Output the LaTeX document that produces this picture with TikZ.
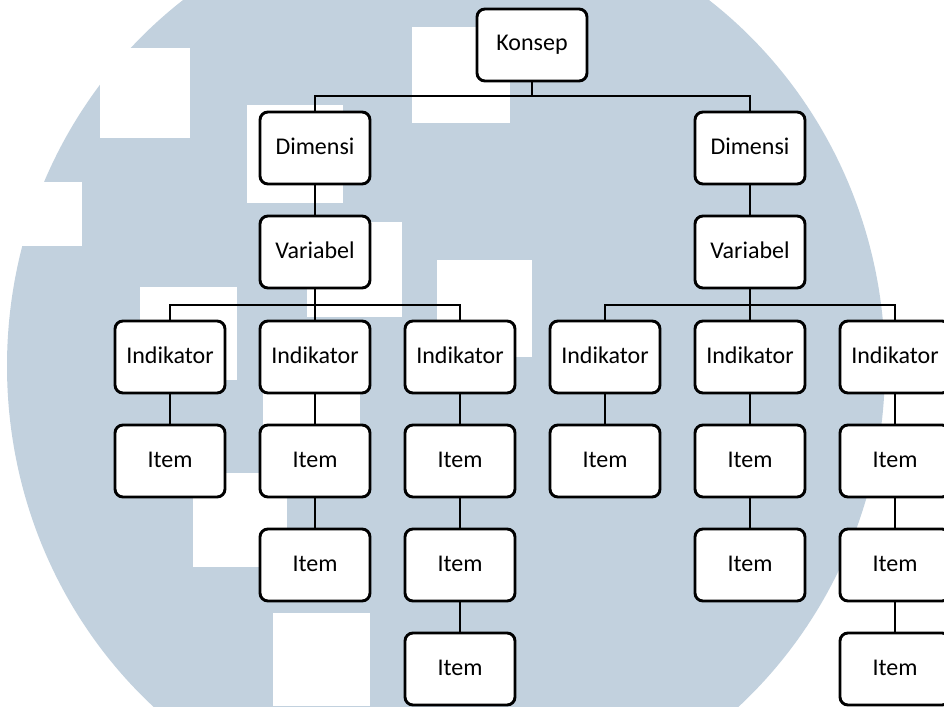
\documentclass[tikz,border=0pt]{standalone}
\usepackage{fontspec}
\setmainfont{Carlito}
\definecolor{wm}{RGB}{194,209,222}
\begin{document}
\begin{tikzpicture}[x=1pt,y=-1pt,
  box/.style={draw=black, line width=2.9pt, fill=white, rounded corners=8pt,
    minimum width=110pt, minimum height=72pt, inner sep=0pt,
    text height=1.2em, text depth=0pt,
    font=\fontsize{24}{29}\selectfont, text=black},
  conn/.style={draw=black, line width=2.6pt},
  hole/.style={fill=white}]
\clip (0,0) rectangle (944,706);
\fill[white] (0,0) rectangle (944,706);
% watermark
\fill[wm] (446,366) ellipse [x radius=439pt, y radius=457pt];
\fill[hole] (100,48) rectangle (190,138);
\fill[hole] (0,182) rectangle (82,246);
\fill[hole] (412,27) rectangle (510,123);
\fill[hole] (247,105) rectangle (343,203);
\fill[hole] (307,222) rectangle (402,317);
\fill[hole] (437,260) rectangle (532,357);
\fill[hole] (140,287) rectangle (237,380);
\fill[hole] (263,380) rectangle (360,470);
\fill[hole] (193,473) rectangle (287,567);
\fill[hole] (273,613) rectangle (370,706);
% nodes
\node[box] (konsep) at (532,45) {Konsep};
\node[box] (dim1) at (315,148) {Dimensi};
\node[box] (dim2) at (750,148) {Dimensi};
\node[box] (var1) at (315,252) {Variabel};
\node[box] (var2) at (750,252) {Variabel};
\node[box] (ind1) at (170,357) {Indikator};
\node[box] (ind2) at (315,357) {Indikator};
\node[box] (ind3) at (460,357) {Indikator};
\node[box] (ind4) at (605,357) {Indikator};
\node[box] (ind5) at (750,357) {Indikator};
\node[box] (ind6) at (895,357) {Indikator};
\node[box] (it1a) at (170,461) {Item};
\node[box] (it2a) at (315,461) {Item};
\node[box] (it2b) at (315,565) {Item};
\node[box] (it3a) at (460,461) {Item};
\node[box] (it3b) at (460,565) {Item};
\node[box] (it3c) at (460,669) {Item};
\node[box] (it4a) at (605,461) {Item};
\node[box] (it5a) at (750,461) {Item};
\node[box] (it5b) at (750,565) {Item};
\node[box] (it6a) at (895,461) {Item};
\node[box] (it6b) at (895,565) {Item};
\node[box] (it6c) at (895,669) {Item};
% bars
\coordinate (b0) at (532,96);
\coordinate (b1) at (315,305);
\coordinate (b2) at (750,305);
\draw[conn] (konsep.south) -- (b0);
\draw[conn] (dim1.north) |- (b0) -| (dim2.north);
\draw[conn] (dim1.south) -- (var1.north);
\draw[conn] (dim2.south) -- (var2.north);
\draw[conn] (var1.south) -- (b1);
\draw[conn] (ind1.north) |- (b1) -| (ind3.north);
\draw[conn] (b1) -- (ind2.north);
\draw[conn] (var2.south) -- (b2);
\draw[conn] (ind4.north) |- (b2) -| (ind6.north);
\draw[conn] (b2) -- (ind5.north);
\draw[conn] (ind1.south) -- (it1a.north);
\draw[conn] (ind2.south) -- (it2a.north);
\draw[conn] (it2a.south) -- (it2b.north);
\draw[conn] (ind3.south) -- (it3a.north);
\draw[conn] (it3a.south) -- (it3b.north);
\draw[conn] (it3b.south) -- (it3c.north);
\draw[conn] (ind4.south) -- (it4a.north);
\draw[conn] (ind5.south) -- (it5a.north);
\draw[conn] (it5a.south) -- (it5b.north);
\draw[conn] (ind6.south) -- (it6a.north);
\draw[conn] (it6a.south) -- (it6b.north);
\draw[conn] (it6b.south) -- (it6c.north);
\end{tikzpicture}
\end{document}
